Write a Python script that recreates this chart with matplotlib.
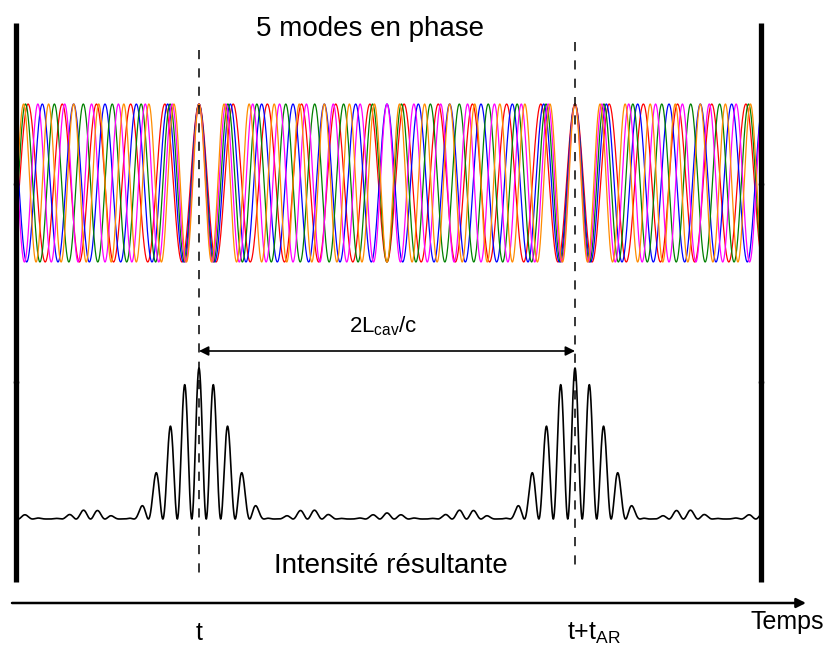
import numpy as np
import matplotlib
matplotlib.use("Agg")
import matplotlib.pyplot as plt

plt.rcParams['font.family'] = ['Liberation Sans', 'DejaVu Sans']
plt.rcParams['mathtext.fontset'] = 'custom'
plt.rcParams['mathtext.rm'] = 'Liberation Sans'
plt.rcParams['mathtext.it'] = 'Liberation Sans'

# ---- data (time in units of the round-trip time) ----
mode_numbers = [11, 12, 13, 14, 15]          # cycles per round trip
mode_colors = ["red", "blue", "green", "magenta", "darkorange"]
t_start, t_end = -0.484, 1.492               # visible time window
pulse_times = [0.0, 1.0]                     # t and t + t_AR
title_top = "5 modes en phase"
title_bottom = "Intensité résultante"
axis_label = "Temps"
tick_labels = ["t", r"t+t$_{\mathrm{AR}}$"]
span_label = r"2L$_{\mathrm{cav}}$/c"

tau = np.linspace(t_start, t_end, 4000)
fields = [np.cos(2 * np.pi * m * tau) for m in mode_numbers]
intensity = np.sum(fields, axis=0) ** 2
n_modes = len(mode_numbers)

# ---- figure in pixel-like y coordinates ----
fig = plt.figure(figsize=(8.3, 6.46), dpi=100)
ax = fig.add_axes([0, 0, 1, 1])
x0_px, scale_px = 199.0, 376.0
ax.set_xlim(-x0_px / scale_px, (830 - x0_px) / scale_px)
ax.set_ylim(646, 0)
ax.axis('off')

def px(x):
    return (x - x0_px) / scale_px

# waves
wave_center, wave_amp = 183, 79
for f, c in zip(fields, mode_colors):
    ax.plot(tau, wave_center - wave_amp * f, color=c, lw=0.9)

# intensity
int_base, int_height = 519, 151
ax.plot(tau, int_base - int_height * intensity / n_modes ** 2, color='black', lw=1.2)

# thick vertical bars at both window edges
for xb in (px(15.5), px(761)):
    ax.plot([xb, xb], [23, 582], color='black', lw=3.8, solid_capstyle='butt')
    ax.plot([xb, xb], [184, 382], 'o', color='black', ms=3)

# dashed lines at the pulse times
ax.plot([pulse_times[0]] * 2, [50, 577], color='black', lw=1.1, ls=(0, (6, 6)))
ax.plot([pulse_times[1]] * 2, [42, 568], color='black', lw=1.1, ls=(0, (6, 6)))

# double arrow between pulses
ax.annotate('', xy=(pulse_times[0], 351), xytext=(pulse_times[1], 351),
            arrowprops=dict(arrowstyle='<|-|>', color='black', lw=1.2,
                            mutation_scale=14, shrinkA=0, shrinkB=0))
ax.text(np.mean(pulse_times) - 0.01, 332, span_label, ha='center', va='baseline', fontsize=16)

# time axis
ax.annotate('', xy=(px(806), 603), xytext=(px(12), 603),
            arrowprops=dict(arrowstyle='-|>', color='black', lw=1.8,
                            mutation_scale=14, shrinkA=0, shrinkB=0))
ax.text(px(787), 629, axis_label, ha='center', va='baseline', fontsize=18)
ax.text(pulse_times[0], 640, tick_labels[0], ha='center', va='baseline', fontsize=18)
ax.text(pulse_times[1] + px(594) - px(575), 640, tick_labels[1], ha='center', va='baseline', fontsize=18)

# titles
ax.text(px(370), 36, title_top, ha='center', va='baseline', fontsize=20)
ax.text(px(391), 573, title_bottom, ha='center', va='baseline', fontsize=20)

fig.savefig('out.png', dpi=100)
